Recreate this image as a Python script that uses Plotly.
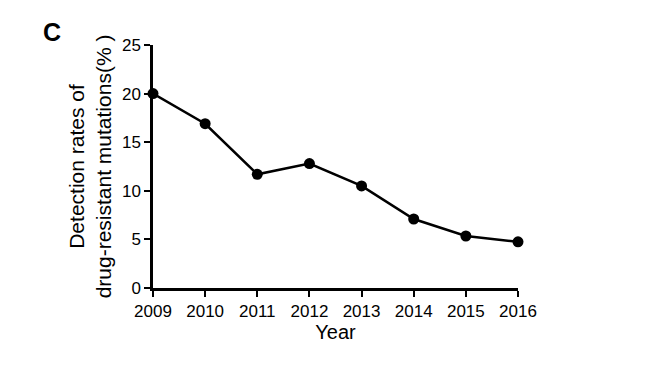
import plotly.graph_objects as go

years = [2009, 2010, 2011, 2012, 2013, 2014, 2015, 2016]
rates = [20.0, 16.9, 11.7, 12.8, 10.5, 7.1, 5.35, 4.75]
y_ticks = [0, 5, 10, 15, 20, 25]

fig = go.Figure()
fig.add_trace(go.Scatter(
    x=years, y=rates, mode="lines+markers",
    line=dict(color="black", width=2.5),
    marker=dict(color="black", size=11),
    cliponaxis=False, showlegend=False,
))

font = "Liberation Sans, Arial, sans-serif"
fig.update_layout(
    width=649, height=367,
    margin=dict(l=145, r=139, t=37, b=87),
    plot_bgcolor="white", paper_bgcolor="white",
    font=dict(family=font, color="black", size=16),
    xaxis=dict(
        range=[2009, 2016], tickvals=years, ticktext=[str(y) for y in years],
        showline=True, linecolor="black", linewidth=2.5,
        ticks="outside", ticklen=6, tickwidth=2, tickcolor="black",
        showgrid=False, zeroline=False, automargin=False,
        tickfont=dict(size=17, family=font),
        title=dict(text="Year", font=dict(size=20), standoff=4),
    ),
    yaxis=dict(
        range=[0, 25], tickvals=y_ticks,
        showline=True, linecolor="black", linewidth=2.5,
        ticks="outside", ticklen=6, tickwidth=2, tickcolor="black",
        showgrid=False, zeroline=False, automargin=False,
        tickfont=dict(size=17, family=font),
        title=dict(text="Detection rates of<br>drug-resistant mutations(% )", font=dict(size=21), standoff=5),
    ),
)
fig.add_annotation(xref="paper", yref="paper", x=-0.277, y=1.053,
                   xanchor="center", yanchor="middle", text="<b>C</b>",
                   showarrow=False, font=dict(size=25, family=font))
fig.write_html("out.html")
